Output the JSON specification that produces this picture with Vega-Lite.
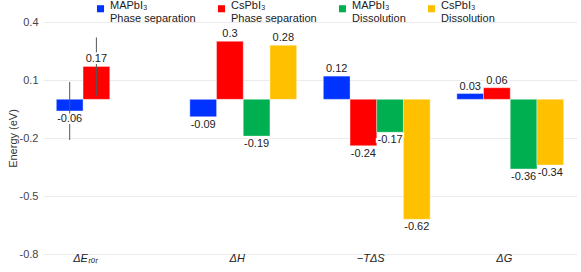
{
  "$schema": "https://vega.github.io/schema/vega-lite/v6.json",
  "width": 534,
  "height": 232,
  "autosize": {"type": "none"},
  "padding": {"left": 43, "top": 22, "right": 4, "bottom": 18},
  "background": "white",
  "config": {"view": {"stroke": null}, "font": "Liberation Sans"},
  "data": {
    "values": [
      {"q": "ΔEₜₒₜ", "s": "MAPbI₃\nPhase separation", "v": -0.06, "lo": -0.21, "hi": 0.09, "t": "-0.06"},
      {"q": "ΔEₜₒₜ", "s": "CsPbI₃\nPhase separation", "v": 0.17, "lo": 0.02, "hi": 0.32, "t": "0.17"},
      {"q": "ΔH", "s": "MAPbI₃\nPhase separation", "v": -0.09, "t": "-0.09"},
      {"q": "ΔH", "s": "CsPbI₃\nPhase separation", "v": 0.3, "t": "0.3"},
      {"q": "ΔH", "s": "MAPbI₃\nDissolution", "v": -0.19, "t": "-0.19"},
      {"q": "ΔH", "s": "CsPbI₃\nDissolution", "v": 0.28, "t": "0.28"},
      {"q": "−TΔS", "s": "MAPbI₃\nPhase separation", "v": 0.12, "t": "0.12"},
      {"q": "−TΔS", "s": "CsPbI₃\nPhase separation", "v": -0.24, "t": "-0.24"},
      {"q": "−TΔS", "s": "MAPbI₃\nDissolution", "v": -0.17, "t": "-0.17"},
      {"q": "−TΔS", "s": "CsPbI₃\nDissolution", "v": -0.62, "t": "-0.62"},
      {"q": "ΔG", "s": "MAPbI₃\nPhase separation", "v": 0.03, "t": "0.03"},
      {"q": "ΔG", "s": "CsPbI₃\nPhase separation", "v": 0.06, "t": "0.06"},
      {"q": "ΔG", "s": "MAPbI₃\nDissolution", "v": -0.36, "t": "-0.36"},
      {"q": "ΔG", "s": "CsPbI₃\nDissolution", "v": -0.34, "t": "-0.34"}
    ]
  },
  "encoding": {
    "x": {
      "field": "q", "type": "nominal",
      "sort": ["ΔEₜₒₜ", "ΔH", "−TΔS", "ΔG"],
      "scale": {"paddingInner": 0.2, "paddingOuter": 0.1},
      "axis": {"title": null, "labelAngle": 0, "ticks": false, "domain": false, "labelPadding": -2, "labelFontStyle": "italic", "labelFontSize": 11, "labelColor": "#222",
        "labelOffset": {"condition": {"test": "datum.value === 'ΔEₜₒₜ'", "value": -24}, "value": -6}}
    },
    "xOffset": {
      "field": "s", "type": "nominal",
      "sort": ["MAPbI₃\nPhase separation", "CsPbI₃\nPhase separation", "MAPbI₃\nDissolution", "CsPbI₃\nDissolution"],
      "scale": {"paddingInner": 0, "paddingOuter": 0}
    }
  },
  "layer": [
    {
      "mark": {"type": "bar", "stroke": "white", "strokeWidth": 1, "strokeOpacity": 0.35},
      "encoding": {
        "y": {
          "field": "v", "type": "quantitative",
          "scale": {"domain": [-0.8, 0.4], "nice": false},
          "axis": {"values": [0.4, 0.1, -0.2, -0.5, -0.8], "labelExpr": "'' + datum.value", "title": "Energy (eV)", "titleFontWeight": "normal", "titleFontSize": 11, "titleColor": "#333", "labelFontSize": 11, "labelColor": "#444", "domain": false, "ticks": false, "labelPadding": 5, "gridColor": "#ebebeb", "titlePadding": 1}
        },
        "color": {
          "field": "s", "type": "nominal",
          "scale": {"domain": ["MAPbI₃\nPhase separation", "CsPbI₃\nPhase separation", "MAPbI₃\nDissolution", "CsPbI₃\nDissolution"], "range": ["#0033ff", "#ff0000", "#00b050", "#ffc000"]},
          "legend": {"title": null, "orient": "none", "direction": "horizontal", "legendX": 52, "legendY": -19, "padding": 0, "columnPadding": 20, "gridAlign": "each", "symbolType": "square", "symbolSize": 50, "symbolStrokeWidth": 0, "labelFontSize": 11, "labelColor": "#222", "labelOffset": 4, "labelLimit": 0, "labelBaseline": "alphabetic", "labelExpr": "split(datum.label, '\\n')"}
        }
      }
    },
    {
      "transform": [{"filter": "isValid(datum.lo)"}],
      "mark": {"type": "rule", "color": "#555", "strokeWidth": 1},
      "encoding": {"y": {"field": "lo", "type": "quantitative"}, "y2": {"field": "hi"}}
    },
    {
      "transform": [{"filter": "datum.v >= 0"}],
      "mark": {"type": "text", "baseline": "alphabetic", "dy": -4, "fontSize": 11, "stroke": "white", "strokeWidth": 4, "fill": "white"},
      "encoding": {"y": {"field": "v", "type": "quantitative"}, "text": {"field": "t"}}
    },
    {
      "transform": [{"filter": "datum.v < 0"}],
      "mark": {"type": "text", "baseline": "top", "dy": 2, "fontSize": 11, "stroke": "white", "strokeWidth": 4, "fill": "white"},
      "encoding": {"y": {"field": "v", "type": "quantitative"}, "text": {"field": "t"}}
    },
    {
      "transform": [{"filter": "datum.v >= 0"}],
      "mark": {"type": "text", "baseline": "alphabetic", "dy": -4, "fontSize": 11, "color": "#222"},
      "encoding": {"y": {"field": "v", "type": "quantitative"}, "text": {"field": "t"}}
    },
    {
      "transform": [{"filter": "datum.v < 0"}],
      "mark": {"type": "text", "baseline": "top", "dy": 2, "fontSize": 11, "color": "#222"},
      "encoding": {"y": {"field": "v", "type": "quantitative"}, "text": {"field": "t"}}
    }
  ]
}
